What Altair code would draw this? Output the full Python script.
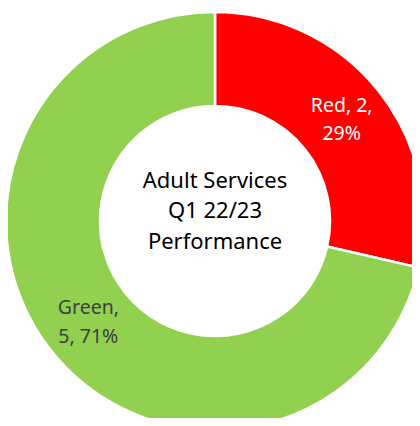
import altair as alt
import pandas as pd

categories = ["Red", "Green"]
counts = [2, 5]
percents = ["29%", "71%"]
label_lines = ["Red, 2,\n29%", "Green,\n5, 71%"]
colors = ["#FF0000", "#92D050"]
label_colors = ["#FFFFFF", "#404040"]
center_title = "Adult Services\nQ1 22/23\nPerformance"

df = pd.DataFrame({
    "category": categories,
    "count": counts,
    "percent": percents,
    "label": label_lines,
    "order": list(range(len(categories))),
    "lcolor": label_colors,
})

CX, CY = 207, 213

base = alt.Chart(df).encode(
    theta=alt.Theta("count:Q", stack=True),
    order=alt.Order("order:Q"),
)

arcs = base.mark_arc(innerRadius=115, outerRadius=209, stroke="#FFFFFF", strokeWidth=2.5).encode(
    color=alt.Color("category:N", scale=alt.Scale(domain=categories, range=colors), legend=None),
    x=alt.value(CX),
    y=alt.value(CY),
)

labels = base.mark_text(radius=162, font="Noto Sans", fontSize=19.5, lineBreak="\n", lineHeight=28.5,
                        align="center", baseline="middle", dy=-14).encode(
    text="label:N",
    color=alt.Color("lcolor:N", scale=None),
    x=alt.value(CX),
    y=alt.value(CY),
)

center = alt.Chart(pd.DataFrame({"t": [center_title]})).mark_text(
    font="Noto Sans", fontSize=22, lineBreak="\n", lineHeight=30.5, align="center", baseline="middle",
    color="#000000", dy=-30.5
).encode(text="t:N", x=alt.value(CX), y=alt.value(CY - 10))

chart = alt.layer(arcs, labels, center).properties(
    width=404, height=410, padding=0, autosize=alt.AutoSizeParams(type="none")
).configure_view(stroke=None)

chart.save("out.html", embed_options={"renderer": "svg", "actions": False})
